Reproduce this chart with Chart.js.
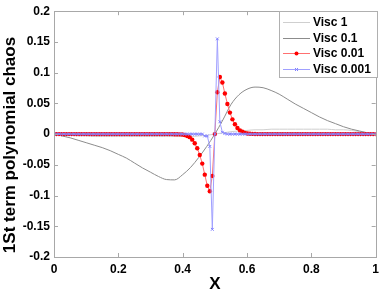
<!DOCTYPE html>
<html>
<head>
<meta charset="utf-8">
<script src="https://cdn.jsdelivr.net/npm/chart.js@4/dist/chart.umd.min.js"></script>
<style>
  html, body { margin: 0; padding: 0; background: #fff; }
  #wrap { width: 384px; height: 292px; }
</style>
</head>
<body>
<div id="wrap"><canvas id="grafico" width="384" height="292"></canvas></div>
<script>
// Curvas suaves (Visc 1 e Visc 0.1)
const xSuave = [0, 0.025, 0.05, 0.075, 0.1, 0.125, 0.15, 0.175, 0.2, 0.225, 0.25, 0.275, 0.3, 0.325, 0.35, 0.375, 0.4, 0.425, 0.45, 0.475, 0.5,
                0.525, 0.55, 0.575, 0.6, 0.625, 0.65, 0.675, 0.7, 0.725, 0.75, 0.775, 0.8, 0.825, 0.85, 0.875, 0.9, 0.925, 0.95, 0.975, 1];
const visc1 = [0, -0.001, -0.002, -0.003, -0.003, -0.004, -0.004, -0.004, -0.004, -0.004, -0.004, -0.004, -0.004, -0.004, -0.004, -0.004, -0.004, -0.004, -0.003, -0.002, 0,
               0.002, 0.004, 0.005, 0.006, 0.007, 0.007, 0.008, 0.008, 0.008, 0.008, 0.008, 0.008, 0.008, 0.008, 0.007, 0.007, 0.006, 0.004, 0.002, 0];
const visc01 = [0, -0.003, -0.006, -0.010, -0.014, -0.018, -0.022, -0.027, -0.033, -0.039, -0.047, -0.055, -0.062, -0.069, -0.074, -0.0745, -0.066, -0.054, -0.038, -0.020, 0,
                0.023, 0.048, 0.064, 0.073, 0.0765, 0.0755, 0.071, 0.065, 0.057, 0.049, 0.042, 0.035, 0.028, 0.022, 0.017, 0.012, 0.008, 0.005, 0.002, 0];

// Malha de 129 pontos (passo 1/128) para Visc 0.01 e Visc 0.001
const xMalha = Array.from({ length: 129 }, (_, i) => i / 128);
const visc001 = [
  0, 0, 0, 0, 0, 0, 0, 0, 0, 0, 0, 0, 0, 0, 0, 0,
  0, 0, 0, 0, 0, 0, 0, 0, 0, 0, 0, 0, 0, 0, 0, 0,
  0, 0, 0, 0, 0, 0, 0, 0, 0, 0, 0, 0, 0, 0, 0, 0,
  -0.0002, -0.0003, -0.0004, -0.0007, -0.0015, -0.003, -0.005, -0.009, -0.015, -0.023, -0.034, -0.048, -0.066, -0.084, -0.093, -0.068,
  0,
  0.068, 0.093, 0.084, 0.066, 0.049, 0.035, 0.024, 0.016, 0.010, 0.006, 0.004, 0.002, 0.001, 0.0006, 0.0003, 0.0002,
  0, 0, 0, 0, 0, 0, 0, 0, 0, 0, 0, 0, 0, 0, 0, 0,
  0, 0, 0, 0, 0, 0, 0, 0, 0, 0, 0, 0, 0, 0, 0, 0,
  0, 0, 0, 0, 0, 0, 0, 0, 0, 0, 0, 0, 0, 0, 0, 0
];
const visc0001 = [
  0, 0, 0, 0, 0, 0, 0, 0, 0, 0, 0, 0, 0, 0, 0, 0,
  0, 0, 0, 0, 0, 0, 0, 0, 0, 0, 0, 0, 0, 0, 0, 0,
  0, 0, 0, 0, 0, 0, 0, 0, 0, 0, 0, 0, 0, 0, 0, 0,
  0, 0, 0, 0, 0, 0, 0, 0, 0, 0, 0, 0, -0.003, -0.003, -0.02, -0.155,
  0,
  0.155, 0.02, 0.003, 0.001, 0, 0, 0, 0, 0, 0, 0, 0, 0, 0, 0, 0,
  0, 0, 0, 0, 0, 0, 0, 0, 0, 0, 0, 0, 0, 0, 0, 0,
  0, 0, 0, 0, 0, 0, 0, 0, 0, 0, 0, 0, 0, 0, 0, 0,
  0, 0, 0, 0, 0, 0, 0, 0, 0, 0, 0, 0, 0, 0, 0, 0
];

const rotulosLegenda = ['Visc 1', 'Visc 0.1', 'Visc 0.01', 'Visc 0.001'];
const ticksX = [0, 0.2, 0.4, 0.6, 0.8, 1];
const ticksY = [-0.2, -0.15, -0.1, -0.05, 0, 0.05, 0.1, 0.15, 0.2];

function pares(xs, ys) {
  return xs.map((x, i) => ({ x: x, y: ys[i] }));
}

const corEixo = '#a8a8a8';
const fonteNegrito = '"Liberation Sans", Arial, sans-serif';

// Moldura, ticks internos, títulos e legenda no estilo MATLAB
const estiloMatlab = {
  id: 'estiloMatlab',
  afterDatasetsDraw(chart) {
    const ctx = chart.ctx;
    const a = chart.chartArea;
    const sx = chart.scales.x;
    const sy = chart.scales.y;
    ctx.save();
    ctx.strokeStyle = corEixo;
    ctx.lineWidth = 1;
    ctx.strokeRect(Math.round(a.left) + 0.5, Math.round(a.top) + 0.5, Math.round(a.right - a.left), Math.round(a.bottom - a.top));
    ctx.beginPath();
    ticksX.forEach(v => {
      const px = Math.round(sx.getPixelForValue(v)) + 0.5;
      ctx.moveTo(px, a.bottom); ctx.lineTo(px, a.bottom - 4);
      ctx.moveTo(px, a.top); ctx.lineTo(px, a.top + 4);
    });
    ticksY.forEach(v => {
      const py = Math.round(sy.getPixelForValue(v)) + 0.5;
      ctx.moveTo(a.left, py); ctx.lineTo(a.left + 4, py);
      ctx.moveTo(a.right, py); ctx.lineTo(a.right - 4, py);
    });
    ctx.stroke();

    // títulos dos eixos
    ctx.fillStyle = '#000';
    ctx.font = 'bold 17px ' + fonteNegrito;
    ctx.textAlign = 'center';
    ctx.textBaseline = 'middle';
    ctx.fillText('X', (a.left + a.right) / 2, 284);
    ctx.save();
    ctx.translate(10, 145);
    ctx.rotate(-Math.PI / 2);
    ctx.font = 'bold 17px ' + fonteNegrito;
    ctx.fillText('1St term polynomial chaos', 0, 0);
    ctx.restore();

    // legenda
    const lx = 279, ly = 11, lw = 98, lh = 66;
    ctx.fillStyle = '#fff';
    ctx.fillRect(lx, ly, lw, lh);
    ctx.strokeStyle = '#b0b0b0';
    ctx.strokeRect(lx + 0.5, ly + 0.5, lw, lh);
    ctx.font = 'bold 12px ' + fonteNegrito;
    ctx.textAlign = 'left';
    chart.data.datasets.forEach((ds, i) => {
      const y = Math.round(ly + 11 + i * 15.5) + 0.5;
      ctx.strokeStyle = ds.borderColor;
      ctx.lineWidth = 1;
      ctx.beginPath();
      ctx.moveTo(283, y); ctx.lineTo(310, y);
      ctx.stroke();
      if (ds.pointRadius > 0) {
        if (ds.pointStyle === 'circle') {
          ctx.fillStyle = ds.pointBackgroundColor;
          ctx.beginPath();
          ctx.arc(296.5, y, 2, 0, Math.PI * 2);
          ctx.fill();
        } else {
          ctx.strokeStyle = ds.pointBorderColor;
          ctx.beginPath();
          ctx.moveTo(295, y - 1.5); ctx.lineTo(298, y + 1.5);
          ctx.moveTo(298, y - 1.5); ctx.lineTo(295, y + 1.5);
          ctx.stroke();
        }
      }
      ctx.fillStyle = '#000';
      ctx.fillText(rotulosLegenda[i], 313, y);
    });
    ctx.restore();
  }
};

new Chart(document.getElementById('grafico'), {
  type: 'line',
  data: {
    datasets: [
      { label: rotulosLegenda[0], data: pares(xSuave, visc1), borderColor: '#cfcfcf', borderWidth: 1, pointRadius: 0,
        cubicInterpolationMode: 'monotone', order: 4 },
      { label: rotulosLegenda[1], data: pares(xSuave, visc01), borderColor: '#8c8c8c', borderWidth: 1, pointRadius: 0,
        cubicInterpolationMode: 'monotone', order: 3 },
      { label: rotulosLegenda[2], data: pares(xMalha, visc001), borderColor: '#ff7070', borderWidth: 1,
        pointStyle: 'circle', pointRadius: 2.2, pointBackgroundColor: '#ff0000', pointBorderColor: '#ff0000', pointBorderWidth: 0, order: 2 },
      { label: rotulosLegenda[3], data: pares(xMalha, visc0001), borderColor: '#a0a0ff', borderWidth: 1,
        pointStyle: 'crossRot', pointRadius: 2, pointBorderColor: '#8080ff', pointBorderWidth: 1, order: 1 }
    ]
  },
  options: {
    responsive: false,
    animation: false,
    layout: { padding: { left: 0, top: 9, right: 4, bottom: 0 } },
    plugins: { legend: { display: false }, tooltip: { enabled: false } },
    scales: {
      x: {
        type: 'linear', min: 0, max: 1,
        afterFit: s => { s.height = 35; },
        afterBuildTicks: s => { s.ticks = ticksX.map(v => ({ value: v })); },
        grid: { display: false, drawTicks: false },
        border: { display: false },
        ticks: { padding: 5, color: '#000', font: { family: fonteNegrito, size: 12, weight: 'bold' }, maxRotation: 0,
                 callback: v => String(+v.toFixed(2)) }
      },
      y: {
        min: -0.2, max: 0.2,
        afterFit: s => { s.width = 54; },
        afterBuildTicks: s => { s.ticks = ticksY.map(v => ({ value: v })); },
        grid: { display: false, drawTicks: false },
        border: { display: false },
        ticks: { padding: 4, color: '#000', font: { family: fonteNegrito, size: 12, weight: 'bold' },
                 callback: v => String(+v.toFixed(2)) }
      }
    }
  },
  plugins: [estiloMatlab]
});
</script>
</body>
</html>
